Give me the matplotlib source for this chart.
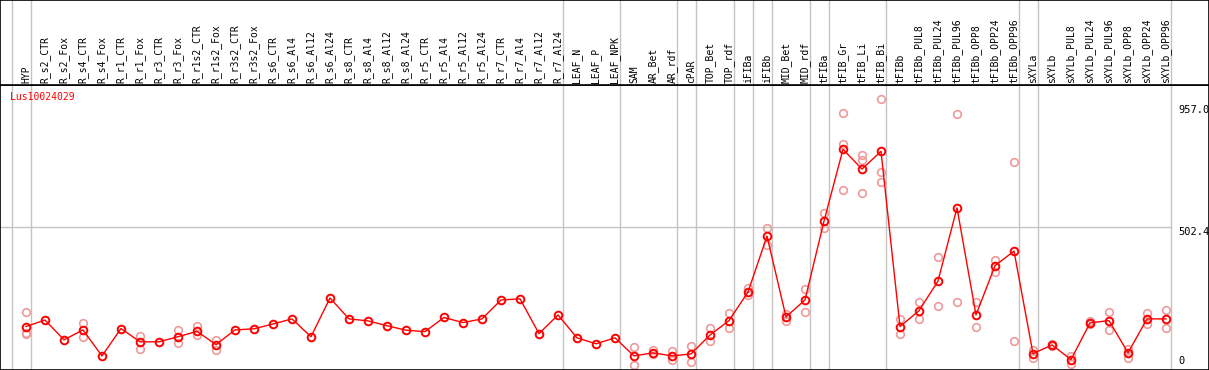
import numpy as np
import matplotlib
matplotlib.use('Agg')
import matplotlib.pyplot as plt
import matplotlib.transforms as mtransforms

# column names (sample conditions)
labels = ['HYP',
          'R_s2_CTR', 'R_s2_Fox', 'R_s4_CTR', 'R_s4_Fox', 'R_r1_CTR', 'R_r1_Fox',
          'R_r3_CTR', 'R_r3_Fox', 'R_r1s2_CTR', 'R_r1s2_Fox', 'R_r3s2_CTR', 'R_r3s2_Fox',
          'R_s6_CTR', 'R_s6_Al4', 'R_s6_Al12', 'R_s6_Al24',
          'R_s8_CTR', 'R_s8_Al4', 'R_s8_Al12', 'R_s8_Al24',
          'R_r5_CTR', 'R_r5_Al4', 'R_r5_Al12', 'R_r5_Al24',
          'R_r7_CTR', 'R_r7_Al4', 'R_r7_Al12', 'R_r7_Al24',
          'LEAF_N', 'LEAF_P', 'LEAF_NPK',
          'SAM', 'AR_Bet', 'AR_rdf', 'cPAR', 'TOP_Bet', 'TOP_rdf', 'iFIBa', 'iFIBb',
          'MID_Bet', 'MID_rdf', 'tFIBa', 'tFIB_Gr', 'tFIB_Li', 'tFIB_Bi',
          'tFIBb', 'tFIBb_PUL8', 'tFIBb_PUL24', 'tFIBb_PUL96',
          'tFIBb_OPP8', 'tFIBb_OPP24', 'tFIBb_OPP96',
          'sXYLa', 'sXYLb', 'sXYLb_PUL8', 'sXYLb_PUL24', 'sXYLb_PUL96',
          'sXYLb_OPP8', 'sXYLb_OPP24', 'sXYLb_OPP96']

# mean expression
means = [152,
         175, 105, 140, 48, 145, 98, 98, 116, 135, 88, 140, 144,
         161, 179, 116, 253, 179, 172, 155, 139,
         134, 184, 166, 179, 246, 250, 127, 193,
         112, 91, 112,
         48, 59, 48, 55, 122, 173, 274, 472,
         186, 246, 525, 779, 709, 772,
         152, 208, 313, 572, 193, 367, 419,
         56, 87, 35, 165, 173, 59, 179, 179]

# replicates (light circles)
reps = [[204, 130, 125],
        [], [], [166, 116], [], [], [120, 72], [], [138, 94], [153, 122], [106, 69], [], [],
        [], [], [], [], [], [], [], [],
        [], [], [], [], [], [], [], [],
        [], [], [],
        [80, 15], [70, 54], [65, 32], [84, 27], [147, 100], [199, 147], [287, 262], [501, 440],
        [197, 173], [285, 205], [554, 500], [906, 799, 636], [759, 742, 624], [957, 699, 664],
        [179, 126], [240, 179], [398, 226], [903, 239], [239, 149], [388, 344], [733, 102],
        [70, 40], [90, 84], [48, 18], [170, 160], [204, 139], [73, 41], [199, 161], [211, 147]]

# number of columns in each group (separated by grey lines)
group_sizes = [1, 28, 3, 3, 1, 2, 1, 1, 2, 1, 3, 7, 1, 7]

ymax = 957.0
ymid = 502.4
gene = 'Lus10024029'

W, H = 1209, 370
mono = 'DejaVu Sans Mono'
grey = '#c4c4c4'

fig = plt.figure(figsize=(W / 100, H / 100), dpi=100)
ax = fig.add_axes([0, 0, 1, 285 / H])
hx = fig.add_axes([0, 285 / H, 1, 85 / H])

xlim = (-26 / 19, (W - 26) / 19)
s = (369.5 - 99) / ymax
ax.set_xlim(xlim)
ax.set_ylim(-0.5 / s, (369.5 - 85) / s)
hx.set_xlim(xlim)
hx.set_ylim(0, 85)

for a in (ax, hx):
    a.set_xticks([])
    a.set_yticks([])
    for sp in a.spines.values():
        sp.set_color('black')
        sp.set_linewidth(1.2)

# group separators
bounds = [-0.76] + list(np.cumsum(group_sizes) - 1 + 0.24)
for b in bounds:
    ax.axvline(b, color=grey, lw=1, zorder=0)
    hx.axvline(b, color=grey, lw=1, zorder=0)
ax.plot([xlim[0], bounds[-1]], [ymid, ymid], color=grey, lw=1, zorder=0)

x = np.arange(len(labels))

# replicates
for i, r in enumerate(reps):
    if r:
        ax.plot([i] * len(r), r, 'o', ms=5.5, mfc='none', mec='#ee9a9a', mew=1.2, zorder=2)

# mean line
ax.plot(x, means, '-', color='red', lw=1, zorder=3)
ax.plot(x, means, 'o', ms=5.5, mfc='none', mec='red', mew=1.4, zorder=4)

# column labels
for i, lab in enumerate(labels):
    hx.text(i, 2, lab, rotation=90, ha='center', va='bottom', fontsize=7, family=mono)

# value labels on the right
xt = (1178 - 26) / 19
ax.text(xt, ymax, '%.1f' % ymax, fontsize=7.5, family=mono, va='top', ha='left',
        transform=mtransforms.offset_copy(ax.transData, fig=fig, x=0, y=-6, units='dots'))
ax.text(xt, ymid, '%.1f' % ymid, fontsize=7.5, family=mono, va='top', ha='left')
ax.text(xt, 0, '0', fontsize=7.5, family=mono, va='bottom', ha='left',
        transform=mtransforms.offset_copy(ax.transData, fig=fig, x=0, y=4, units='dots'))

fig.text(10 / W, 1 - 97 / H, gene, color='red', fontsize=7, family=mono, va='center', ha='left')

fig.savefig('out.png', dpi=100)
